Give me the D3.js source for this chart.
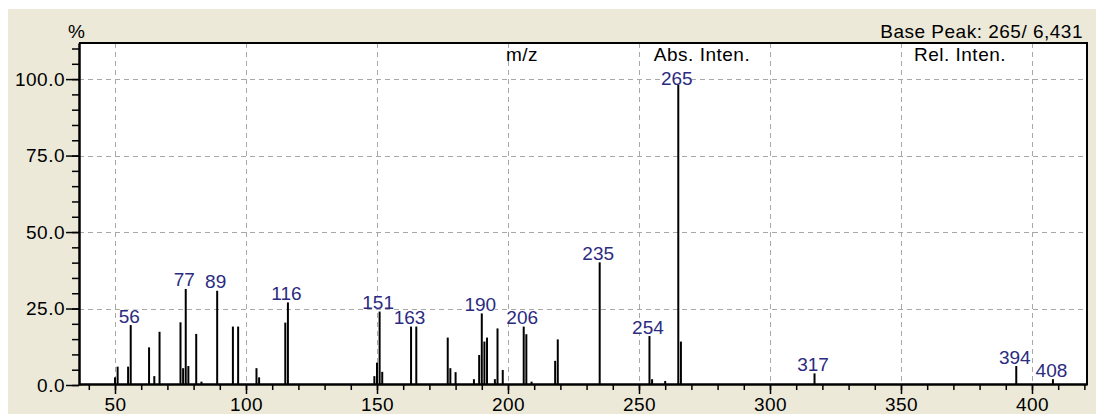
<!DOCTYPE html>
<html><head><meta charset="utf-8">
<script src="https://cdn.jsdelivr.net/npm/d3@7"></script>
<style>
body{margin:0;background:#fff;}
svg{display:block;font-family:"Liberation Sans",Arial,sans-serif;}
</style>
</head><body>
<svg id="c" width="1096" height="414"></svg>
<script>
// ---- data ----
const mz =     [50, 51, 55, 56, 63, 65, 67, 75, 76, 77, 78, 81, 83, 89, 95, 97, 104, 105, 115, 116,
                149, 150, 151, 152, 163, 165, 177, 178, 180, 187, 189, 190, 191, 192, 195, 196, 198,
                206, 207, 209, 218, 219, 235, 254, 255, 260, 265, 266, 317, 394, 408];
const relInt = [2.5, 6.0, 6.0, 19.6, 12.3, 2.9, 17.4, 20.5, 5.5, 31.4, 6.2, 16.7, 1.1, 30.8, 19.1, 19.1, 5.5, 2.5, 20.4, 27.0,
                2.9, 7.3, 24.0, 4.3, 19.1, 19.1, 15.5, 5.5, 4.2, 1.9, 9.8, 23.4, 14.2, 15.5, 1.9, 18.5, 4.9,
                19.1, 16.6, 1.1, 7.9, 14.9, 40.1, 16.0, 1.9, 1.3, 100, 14.2, 3.8, 6.2, 1.9];
const labeledPeaks = [56, 77, 89, 116, 151, 163, 190, 206, 235, 254, 265, 317, 394, 408];
const xTickValues = [50, 100, 150, 200, 250, 300, 350, 400];
const yTickValues = [0, 25, 50, 75, 100];
const headerTexts = ["m/z", "Abs. Inten.", "Rel. Inten."];
const basePeakText = "Base Peak: 265/\u00a06,431";
const yUnitText = "%";

// ---- layout ----
const svg = d3.select("#c");
const L = 79, R = 1087, T = 43, B = 385;
const x = d3.scaleLinear().domain([36.26, 421]).range([L, R]);
const y = d3.scaleLinear().domain([0, 111.8]).range([B, T]);

svg.append("rect").attr("x", 8).attr("y", 9).attr("width", 1088).attr("height", 405).attr("fill", "#ECE9D8");
svg.append("rect").attr("x", L).attr("y", T).attr("width", R - L).attr("height", B - T).attr("fill", "#fff");

// grid
const grid = svg.append("g").attr("stroke", "#a8a8a8").attr("stroke-width", 1).attr("stroke-dasharray", "5,4");
grid.selectAll("line.v").data(xTickValues).join("line").attr("class", "v")
  .attr("x1", d => Math.round(x(d)) + 0.5).attr("x2", d => Math.round(x(d)) + 0.5)
  .attr("y1", T).attr("y2", B);
grid.selectAll("line.h").data(yTickValues.filter(d => d > 0)).join("line").attr("class", "h")
  .attr("y1", d => Math.round(y(d)) + 0.5).attr("y2", d => Math.round(y(d)) + 0.5)
  .attr("x1", L).attr("x2", R);

// peaks
const peaks = mz.map((m, i) => ({m, v: relInt[i]}));
svg.append("g").selectAll("line").data(peaks).join("line")
  .attr("x1", d => x(d.m)).attr("x2", d => x(d.m))
  .attr("y1", y(0)).attr("y2", d => y(d.v))
  .attr("stroke", "#000").attr("stroke-width", 2);

// peak labels
const lab = svg.append("g");
peaks.filter(d => labeledPeaks.includes(d.m)).forEach(d => {
  const g = lab.append("g");
  const t = g.append("text")
    .attr("x", x(d.m) - 1.5)
    .attr("y", Math.max(y(d.v) - 2.5, 85))
    .attr("text-anchor", "middle")
    .attr("font-size", 19).attr("fill", "#2b2b80")
    .text(d.m);
  const bb = t.node().getBBox();
  g.insert("rect", "text").attr("x", bb.x + 1).attr("y", bb.y + 4)
    .attr("width", bb.width - 2).attr("height", bb.height - 8).attr("fill", "#fff");
});

// axes
const tickStyle = g => {
  g.select(".domain").attr("stroke", "#000").attr("stroke-width", 2);
  g.selectAll(".tick line").attr("stroke", "#000").attr("stroke-width", 1.5);
};
svg.append("g").attr("transform", `translate(${L},0)`)
  .call(d3.axisLeft(y).tickValues(d3.range(0, 111, 5)).tickSize(7).tickFormat("").tickSizeOuter(0))
  .call(tickStyle);
const ya = svg.append("g").attr("transform", `translate(${L},0)`)
  .call(d3.axisLeft(y).tickValues(yTickValues).tickSize(13).tickPadding(1).tickFormat(d3.format(".1f")).tickSizeOuter(0))
  .call(tickStyle);
ya.selectAll("text").attr("font-size", 19).attr("fill", "#000").attr("font-family", "Liberation Sans, Arial, sans-serif").attr("letter-spacing", 0.5);

svg.append("g").attr("transform", `translate(0,${B - 1})`)
  .call(d3.axisBottom(x).tickValues(d3.range(40, 421, 10)).tickSize(6).tickFormat("").tickSizeOuter(0))
  .call(tickStyle);
const xa = svg.append("g").attr("transform", `translate(0,${B - 1})`)
  .call(d3.axisBottom(x).tickValues(xTickValues).tickSize(10).tickFormat(d3.format("d")).tickSizeOuter(0))
  .call(tickStyle);
xa.selectAll("text").attr("y", 27).attr("dy", 0).attr("font-size", 19).attr("fill", "#000")
  .attr("font-family", "Liberation Sans, Arial, sans-serif").attr("letter-spacing", 0.5);

// border (top & right)
svg.append("path").attr("d", `M${L},${T}H${R}V${B}`).attr("fill", "none").attr("stroke", "#000").attr("stroke-width", 2);

// header texts
const hx = [522, 702, 960];
svg.append("g").selectAll("text").data(headerTexts).join("text")
  .attr("x", (d, i) => hx[i]).attr("y", 61).attr("text-anchor", "middle")
  .attr("font-size", 19).attr("letter-spacing", 0.5).attr("fill", "#000").text(d => d);

svg.append("text").attr("x", 1083).attr("y", 38).attr("text-anchor", "end")
  .attr("font-size", 19).attr("letter-spacing", 0.5).attr("fill", "#000").text(basePeakText);
svg.append("text").attr("x", 76.5).attr("y", 38).attr("text-anchor", "middle")
  .attr("font-size", 19).attr("fill", "#000").text(yUnitText);
</script>
</body></html>
